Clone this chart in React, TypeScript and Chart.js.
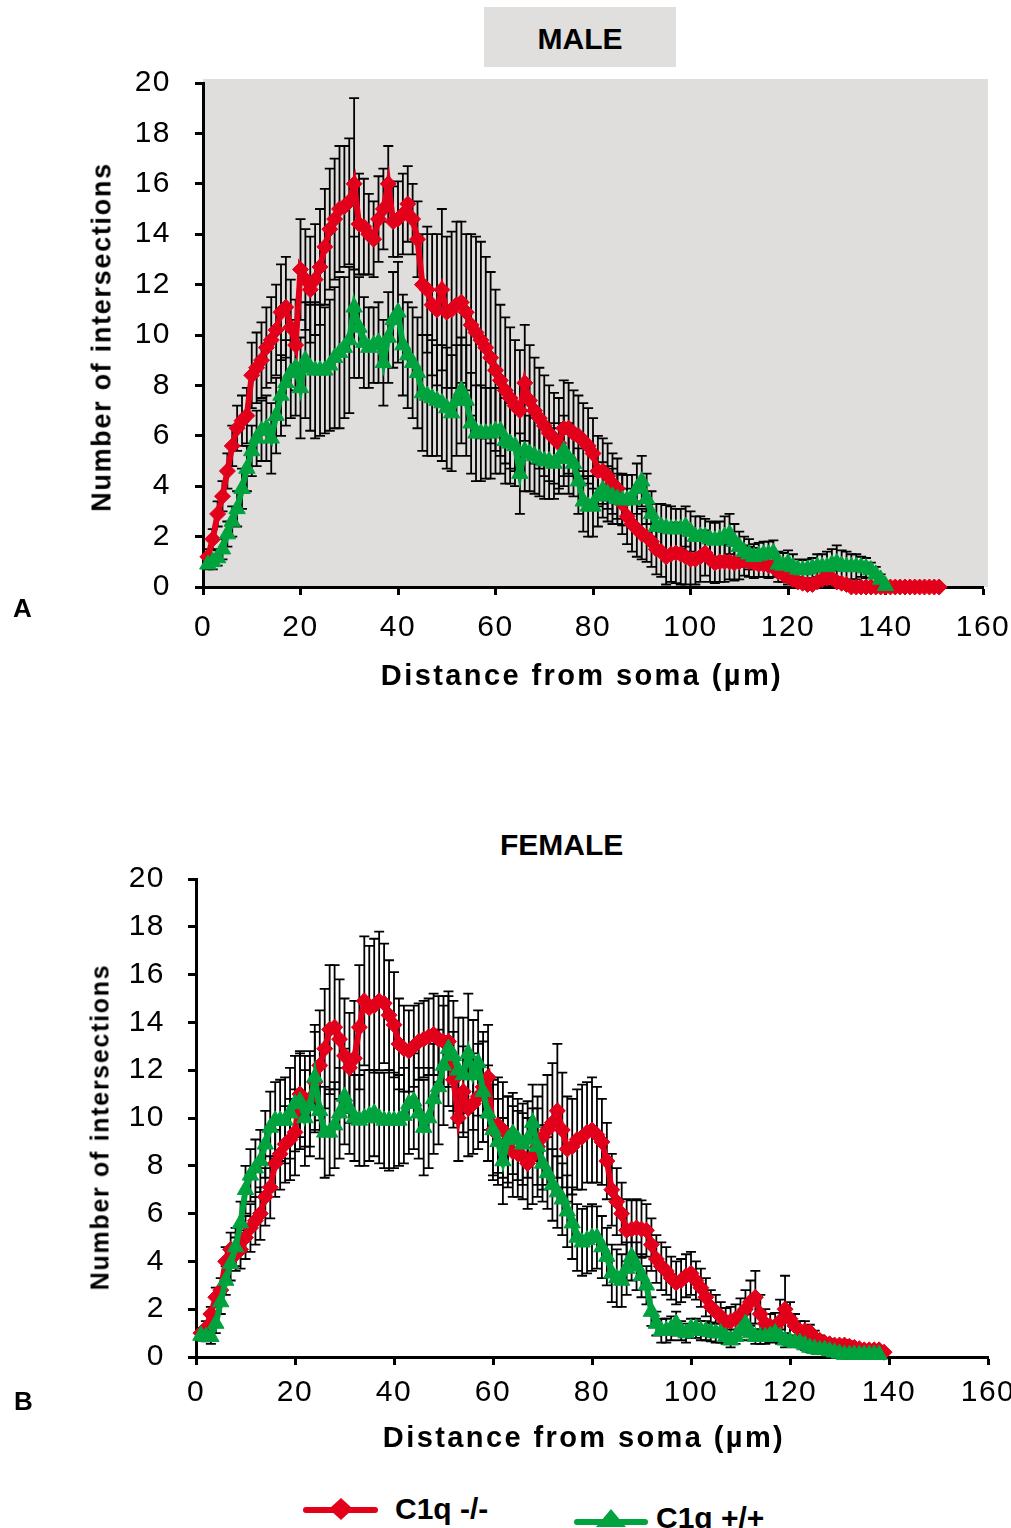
import React, { useEffect, useRef } from "react";
import { Chart, registerables } from "chart.js";

Chart.register(...registerables);

const RED = "#E2001A";
const GREEN = "#00A33E";
const FONT = "'Liberation Sans', Arial, Helvetica, sans-serif";

// Distance from soma (µm) starts at 1 µm, step 1 µm
const xTicks = [0, 20, 40, 60, 80, 100, 120, 140, 160];
const yTicks = [0, 2, 4, 6, 8, 10, 12, 14, 16, 18, 20];

// ---------------- MALE ----------------
const maleKO = [
  1.2, 1.9, 2.9, 3.6, 4.6, 5.6, 6.3, 6.6, 6.8, 8.4,
  8.7, 9.0, 9.5, 9.8, 10.2, 10.9, 11.1, 10.3, 9.6, 12.6,
  12.2, 11.8, 12.2, 12.7, 13.5, 14.2, 14.6, 15.0, 15.1, 15.3,
  16.0, 14.4, 14.3, 14.0, 13.8, 14.6, 15.0, 16.0, 14.5, 14.6,
  14.8, 15.2, 14.6, 13.8, 12.0, 11.8, 11.2, 11.0, 11.8, 10.9,
  11.0, 11.2, 11.3, 10.9, 10.4, 10.1, 9.8, 9.5, 9.1, 8.6,
  8.2, 7.8, 7.5, 7.2, 7.0, 8.1, 7.4, 7.0, 6.7, 6.4,
  6.1, 5.9, 5.7, 6.3, 6.3, 6.1, 6.0, 5.8, 5.6, 5.3,
  4.6, 4.6, 4.4, 4.1, 3.9, 3.3, 2.8, 2.5, 2.3, 2.1,
  2.0, 1.8, 1.5, 1.4, 1.2, 1.3, 1.35, 1.3, 1.2, 1.1,
  1.1, 1.2, 1.35, 1.1, 0.95, 1.0, 1.0, 1.0, 0.95, 1.0,
  1.05, 1.0, 0.95, 0.9, 0.9, 0.85, 0.8, 0.6, 0.5, 0.4,
  0.3, 0.2, 0.15, 0.1, 0.1, 0.2, 0.3, 0.35, 0.35, 0.2,
  0.15, 0.1, 0, 0, 0, 0, 0, 0, 0, 0,
  0, 0, 0, 0, 0, 0, 0, 0, 0, 0, 0,
];
const maleKOsem = [
  0.3, 0.4, 0.5, 0.6, 0.7, 0.8, 0.9, 1.0, 1.1, 1.3,
  1.4, 1.5, 1.6, 1.7, 1.8, 1.9, 2.0, 1.9, 1.8, 2.0,
  2.0, 2.1, 2.2, 2.3, 2.3, 2.4, 2.4, 2.5, 2.4, 2.5,
  3.4, 2.0, 1.9, 1.6, 1.5, 1.7, 1.6, 1.5, 1.4, 1.5,
  1.6, 1.5, 1.4, 1.5, 2.0, 2.5, 2.8, 3.0, 3.2, 3.0,
  3.1, 3.3, 3.2, 3.1, 3.6, 3.8, 3.9, 3.6, 3.4, 3.2,
  3.0, 2.9, 2.8, 2.6, 2.4, 2.3, 2.2, 2.1, 2.0, 2.0,
  1.9, 1.8, 1.8, 1.9, 1.8, 1.7, 1.6, 1.5, 1.5, 1.4,
  1.4, 1.3, 1.3, 1.2, 1.2, 1.2, 1.1, 1.1, 1.1, 1.0,
  1.0, 1.0, 1.0, 1.0, 1.1, 1.1, 1.2, 1.2, 1.1, 1.1,
  1.0, 1.0, 0.9, 0.9, 0.8, 0.8, 0.8, 0.7, 0.7, 0.7,
  0.6, 0.6, 0.6, 0.5, 0.5, 0.5, 0.4, 0.4, 0.3, 0.3,
  0.3, 0.2, 0.2, 0.1, 0.1, 0.2, 0.3, 0.3, 0.3, 0.2,
  0.1, 0.1, 0, 0, 0, 0, 0, 0, 0, 0,
  0, 0, 0, 0, 0, 0, 0, 0, 0, 0, 0,
];
const maleWT = [
  0.9, 1.0, 1.15, 1.5, 2.1, 2.6, 3.1, 3.9, 4.7, 5.4,
  5.9, 6.2, 6.3, 5.9, 6.8, 7.6, 8.1, 8.5, 8.7, 7.9,
  9.0, 8.7, 8.6, 8.6, 8.6, 8.8, 9.1, 9.3, 9.5, 9.8,
  11.1, 10.3, 9.7, 9.5, 9.6, 9.7, 8.9, 9.9, 10.6, 10.9,
  9.6, 9.2, 8.9, 8.5, 7.7, 7.6, 7.5, 7.4, 7.3, 7.1,
  6.9, 7.4, 7.8, 7.4, 6.5, 6.1, 6.1, 6.1, 6.1, 6.2,
  6.2, 5.8, 5.7, 5.6, 4.5, 5.4, 5.3, 5.2, 5.1, 5.0,
  5.0, 4.9, 5.1, 5.4, 5.1, 4.9, 4.2, 3.4, 3.2, 3.2,
  3.6, 3.85, 3.7, 3.6, 3.5, 3.45, 3.45, 3.45, 3.9, 4.2,
  3.5, 2.9, 2.4, 2.4, 2.35, 2.3, 2.3, 2.3, 2.4, 2.2,
  2.0, 2.0, 2.0, 1.9, 1.85, 1.9, 2.0, 2.1, 1.8, 1.6,
  1.4, 1.3, 1.2, 1.25, 1.3, 1.3, 1.35, 0.9, 0.85, 0.95,
  0.8, 0.7, 0.67, 0.7, 0.75, 0.8, 0.8, 0.8, 0.9, 0.95,
  0.85, 0.8, 0.8, 0.8, 0.8, 0.75, 0.67, 0.5, 0.3, 0.05,
];
const maleWTsem = [
  0.2, 0.3, 0.3, 0.4, 0.5, 0.6, 0.7, 0.8, 0.9, 1.0,
  1.1, 1.2, 1.3, 1.4, 1.5, 1.6, 1.7, 1.8, 1.9, 2.0,
  2.3, 2.5, 2.7, 2.6, 2.5, 2.6, 2.8, 3.0, 2.8, 2.9,
  2.8, 2.0, 1.8, 1.6, 1.5, 1.6, 1.7, 1.8, 1.9, 2.0,
  2.0, 2.1, 2.2, 2.2, 2.3, 2.4, 2.3, 2.2, 2.3, 2.4,
  2.3, 2.2, 2.1, 2.2, 2.0, 1.9, 1.9, 1.8, 1.8, 1.7,
  1.7, 1.7, 1.6, 1.6, 1.6, 1.6, 1.5, 1.5, 1.5, 1.5,
  1.5, 1.4, 1.4, 1.4, 1.4, 1.3, 1.3, 1.2, 1.2, 1.2,
  1.2, 1.1, 1.1, 1.1, 1.0, 1.0, 1.0, 1.0, 1.0, 1.0,
  1.0, 0.9, 0.9, 0.9, 0.9, 0.9, 0.8, 0.8, 0.8, 0.8,
  0.8, 0.8, 0.7, 0.7, 0.7, 0.7, 0.8, 0.8, 0.7, 0.6,
  0.6, 0.6, 0.5, 0.5, 0.5, 0.5, 0.5, 0.5, 0.5, 0.5,
  0.5, 0.4, 0.4, 0.4, 0.4, 0.5, 0.5, 0.6, 0.6, 0.7,
  0.6, 0.6, 0.5, 0.5, 0.4, 0.4, 0.3, 0.3, 0.2, 0.1,
];

// ---------------- FEMALE ----------------
const femaleKO = [
  1.0, 1.2, 1.8, 2.5, 2.8, 4.0, 4.5, 4.3, 4.5, 5.0,
  5.4, 5.7, 6.0, 6.7, 7.1, 8.1, 8.5, 8.9, 9.1, 9.4,
  11.0, 10.7, 10.8, 11.5, 12.2, 12.9, 13.7, 13.8, 13.3, 12.6,
  12.1, 12.5, 13.8, 14.9, 14.6, 14.7, 14.9, 14.8, 14.3, 13.9,
  13.1, 12.9, 12.8, 13.0, 13.2, 13.3, 13.4, 13.5, 13.3, 13.2,
  13.2, 11.6, 10.0, 11.1, 10.4, 10.6, 10.9, 11.3, 11.7, 9.5,
  9.7, 9.5, 9.0, 8.6, 8.5, 8.4, 8.1, 8.4, 8.8, 9.2,
  9.5, 9.8, 10.3, 9.5, 8.7, 8.8, 9.1, 9.2, 9.4, 9.5,
  9.3, 9.0, 8.2, 7.0, 6.5, 6.0, 5.3, 5.35, 5.4, 5.35,
  5.3, 4.7, 4.1, 3.8, 3.6, 3.3, 3.1, 3.2, 3.4, 3.5,
  3.2, 2.9, 2.5, 2.1, 1.9, 1.7, 1.45, 1.5, 1.6, 1.75,
  2.0, 2.3, 2.5, 1.8, 1.4, 1.3, 1.25, 1.5, 2.0, 1.6,
  1.3, 1.1, 1.1, 1.05, 0.8, 0.7, 0.6, 0.55, 0.5, 0.5,
  0.5, 0.45, 0.4, 0.35, 0.3, 0.3, 0.3, 0.3, 0.2,
];
const femaleKOsem = [
  0.2, 0.3, 0.3, 0.4, 0.5, 0.6, 0.7, 0.7, 0.8, 0.9,
  1.0, 1.0, 1.1, 1.2, 1.3, 1.4, 1.5, 1.6, 1.7, 1.8,
  1.8, 1.9, 2.0, 2.1, 2.3, 2.5, 2.7, 2.6, 2.5, 2.4,
  2.3, 2.4, 2.6, 2.7, 2.6, 2.8, 2.9, 2.5, 2.3, 2.2,
  1.9, 1.8, 1.7, 1.7, 1.6, 1.6, 1.6, 1.7, 1.8, 1.9,
  1.9, 2.0, 1.8, 1.9, 2.0, 2.1, 2.2, 2.3, 2.2, 2.1,
  2.0, 2.0, 1.9, 1.9, 1.8, 1.8, 1.9, 2.0, 2.1, 2.2,
  2.3, 2.5, 2.8, 2.4, 2.2, 2.0, 2.1, 2.2, 2.1, 2.2,
  2.0, 1.8, 1.6, 1.5, 1.4, 1.3, 1.3, 1.2, 1.2, 1.2,
  1.1, 1.1, 1.0, 1.0, 1.0, 0.9, 0.9, 0.9, 0.9, 0.9,
  0.8, 0.8, 0.8, 0.7, 0.7, 0.6, 0.6, 0.6, 0.6, 0.7,
  0.8, 0.9, 1.1, 0.8, 0.6, 0.5, 0.6, 0.9, 1.4, 0.7,
  0.5, 0.4, 0.4, 0.3, 0.3, 0.2, 0.2, 0.2, 0.2, 0.2,
  0.2, 0.2, 0.1, 0.1, 0.1, 0.1, 0.1, 0.1, 0.1,
];
const femaleWT = [
  0.9, 0.85, 0.85, 1.4, 2.3, 3.2, 3.9, 4.6, 5.6, 7.0,
  7.6, 7.9, 8.2, 8.9, 9.6, 9.9, 9.9, 9.9, 10.2, 10.6,
  10.7, 10.0, 10.5, 11.7, 10.3, 9.4, 9.4, 9.7, 10.2, 10.9,
  10.4, 10.0, 9.9, 10.0, 10.1, 10.2, 10.0, 9.9, 9.9, 9.9,
  9.9, 10.1, 10.6, 10.7, 10.2, 9.6, 10.0, 10.8, 11.3, 12.2,
  12.9, 12.6, 12.0, 11.8, 12.7, 11.8, 12.3, 11.1, 10.2, 9.5,
  9.0, 8.2, 9.1, 9.35, 9.1, 8.9, 9.1, 9.8, 8.8, 8.1,
  7.7, 7.2, 6.9, 6.6, 6.1, 5.6, 5.0, 4.8, 4.9, 5.0,
  5.0, 4.6, 4.2, 3.5, 3.3, 3.2, 3.7, 4.2, 3.8, 3.4,
  3.0, 1.9, 1.4, 1.1, 1.1, 1.2, 1.4, 1.1, 1.0, 1.2,
  1.2, 1.1, 1.1, 1.05, 1.0, 1.0, 0.85, 0.7, 0.85, 1.1,
  1.4, 1.0, 0.85, 0.85, 0.85, 0.9, 1.0, 0.85, 0.7, 0.65,
  0.6, 0.6, 0.5, 0.4, 0.35, 0.3, 0.3, 0.25, 0.2, 0.15,
  0.1, 0.1, 0.1, 0.1, 0.1, 0.1, 0.1, 0.1,
];
const femaleWTsem = [
  0.2, 0.2, 0.3, 0.4, 0.5, 0.6, 0.7, 0.8, 0.9, 1.0,
  1.1, 1.2, 1.3, 1.4, 1.5, 1.6, 1.7, 1.8, 1.9, 2.0,
  2.0, 2.0, 2.1, 2.2, 2.0, 1.9, 1.8, 1.8, 1.9, 2.0,
  1.9, 1.8, 1.9, 2.0, 1.9, 1.8, 1.9, 2.0, 2.1, 2.0,
  1.9, 2.0, 2.1, 2.0, 1.9, 2.0, 2.1, 2.3, 2.4, 2.5,
  2.4, 2.3, 2.2, 2.4, 2.5, 2.3, 2.2, 2.1, 2.0, 1.9,
  1.8, 1.8, 1.8, 1.7, 1.7, 1.7, 1.6, 1.6, 1.6, 1.6,
  1.5, 1.5, 1.5, 1.5, 1.5, 1.5, 1.4, 1.4, 1.4, 1.4,
  1.3, 1.3, 1.2, 1.2, 1.2, 1.1, 1.1, 1.0, 1.0, 0.9,
  0.8, 0.6, 0.5, 0.5, 0.5, 0.5, 0.5, 0.4, 0.4, 0.4,
  0.4, 0.4, 0.4, 0.4, 0.4, 0.4, 0.3, 0.3, 0.3, 0.4,
  0.4, 0.3, 0.3, 0.3, 0.3, 0.3, 0.3, 0.3, 0.3, 0.2,
  0.2, 0.2, 0.2, 0.2, 0.2, 0.1, 0.1, 0.1, 0.1, 0.1,
  0.1, 0.1, 0.1, 0.1, 0.1, 0.1, 0.1, 0.1,
];

const seriesNames = ["C1q -/-", "C1q +/+"];

function toPoints(vals: number[]) {
  return vals.map((v, i) => ({ x: i + 1, y: v }));
}

const errorBarPlugin = {
  id: "errorBars",
  beforeDatasetsDraw(chart: any) {
    const { ctx, chartArea, scales } = chart;
    ctx.save();
    ctx.beginPath();
    ctx.rect(chartArea.left, chartArea.top - 30, chartArea.right - chartArea.left + 10, chartArea.bottom - chartArea.top + 30);
    ctx.clip();
    ctx.strokeStyle = "#000";
    ctx.lineWidth = 1.8;
    chart.data.datasets.forEach((ds: any) => {
      const sem: number[] = ds.sem || [];
      ds.data.forEach((p: any, i: number) => {
        const e = sem[i];
        if (!e) return;
        const x = scales.x.getPixelForValue(p.x);
        const y1 = scales.y.getPixelForValue(p.y + e);
        const y2 = scales.y.getPixelForValue(p.y - e);
        ctx.beginPath();
        ctx.moveTo(x, y1);
        ctx.lineTo(x, y2);
        ctx.moveTo(x - 5, y1);
        ctx.lineTo(x + 5, y1);
        ctx.moveTo(x - 5, y2);
        ctx.lineTo(x + 5, y2);
        ctx.stroke();
      });
    });
    ctx.restore();
  },
};

const spacingPlugin = {
  id: "tickSpacing",
  beforeDraw(chart: any) {
    chart.ctx.letterSpacing = "1.5px";
  },
  afterDraw(chart: any) {
    chart.ctx.letterSpacing = "0px";
  },
};

type PanelProps = {
  top: number;
  width: number;
  height: number;
  padTop: number;
  padRight: number;
  yWidth: number;
  xHeight: number;
  xPad: number;
  yPad: number;
  ko: number[];
  koSem: number[];
  wt: number[];
  wtSem: number[];
};

function Panel(props: PanelProps) {
  const ref = useRef<HTMLCanvasElement | null>(null);
  useEffect(() => {
    if (!ref.current) return;
    const tickFont = { family: FONT, size: 30 };
    const chart = new Chart(ref.current, {
      type: "line",
      data: {
        datasets: [
          {
            label: seriesNames[0],
            data: toPoints(props.ko),
            sem: props.koSem,
            borderColor: RED,
            backgroundColor: RED,
            borderWidth: 6,
            pointStyle: "rectRot",
            pointRadius: 8,
            pointBorderWidth: 1,
            pointBackgroundColor: RED,
            pointBorderColor: RED,
            tension: 0,
            clip: false,
            order: 1,
          } as any,
          {
            label: seriesNames[1],
            data: toPoints(props.wt),
            sem: props.wtSem,
            borderColor: GREEN,
            backgroundColor: GREEN,
            borderWidth: 6,
            pointStyle: "triangle",
            pointRadius: 9.5,
            pointBorderWidth: 1,
            pointBackgroundColor: GREEN,
            pointBorderColor: GREEN,
            tension: 0,
            clip: false,
            order: 0,
          } as any,
        ],
      },
      options: {
        responsive: false,
        animation: false,
        devicePixelRatio: 1,
        events: [],
        layout: { padding: { top: props.padTop, right: props.padRight, left: 0, bottom: 0 } },
        plugins: { legend: { display: false }, tooltip: { enabled: false } },
        scales: {
          x: {
            type: "linear",
            min: 0,
            max: 160,
            afterBuildTicks: (s: any) => {
              s.ticks = xTicks.map((v) => ({ value: v }));
            },
            ticks: { padding: props.xPad, color: "#000", font: tickFont, maxRotation: 0, autoSkip: false },
            grid: { drawOnChartArea: false, drawTicks: true, tickLength: 8, tickWidth: 3, tickColor: "#000" },
            border: { display: true, color: "#000", width: 3 },
            afterFit: (s: any) => {
              s.height = props.xHeight;
            },
          },
          y: {
            type: "linear",
            min: 0,
            max: 20,
            afterBuildTicks: (s: any) => {
              s.ticks = yTicks.map((v) => ({ value: v }));
            },
            ticks: { padding: props.yPad, color: "#000", font: tickFont },
            grid: { drawOnChartArea: false, drawTicks: true, tickLength: 8, tickWidth: 3, tickColor: "#000" },
            border: { display: true, color: "#000", width: 3 },
            afterFit: (s: any) => {
              s.width = props.yWidth;
            },
          },
        },
      } as any,
      plugins: [errorBarPlugin, spacingPlugin],
    });
    return () => chart.destroy();
  }, []);
  return (
    <canvas
      ref={ref}
      width={props.width}
      height={props.height}
      style={{ position: "absolute", left: 0, top: props.top, width: props.width, height: props.height }}
    />
  );
}

const abs = (o: React.CSSProperties): React.CSSProperties => ({ position: "absolute", ...o });

function YTitle({ cx, cy, size }: { cx: number; cy: number; size: number }) {
  return (
    <div
      style={abs({
        left: cx,
        top: cy,
        transform: "translate(-50%, -50%) rotate(-90deg)",
        whiteSpace: "nowrap",
        fontFamily: FONT,
        fontWeight: "bold",
        fontSize: size,
        lineHeight: `${size}px`,
        letterSpacing: "1.7px",
        color: "#000",
      })}
    >
      Number of intersections
    </div>
  );
}

function XTitle({ cx, top }: { cx: number; top: number }) {
  return (
    <div
      style={abs({
        left: cx,
        top,
        transform: "translateX(-50%)",
        whiteSpace: "nowrap",
        fontFamily: FONT,
        fontWeight: "bold",
        fontSize: 29,
        lineHeight: "29px",
        letterSpacing: "2.4px",
        color: "#000",
      })}
    >
      Distance from soma (µm)
    </div>
  );
}

export default function App() {
  const bold = (size: number): React.CSSProperties => ({
    fontFamily: FONT,
    fontWeight: "bold",
    fontSize: size,
    lineHeight: `${size}px`,
    whiteSpace: "nowrap",
    color: "#000",
  });
  return (
    <div style={abs({ left: 0, top: 0, width: 1011, height: 1528, overflow: "hidden", background: "#fff" })}>
      {/* MALE panel */}
      <div style={abs({ left: 484, top: 7, width: 192, height: 60, background: "#E0DFDD" })} />
      <div style={abs({ left: 484, top: 24, width: 192, textAlign: "center", ...bold(30) })}>MALE</div>
      <div style={abs({ left: 203, top: 79, width: 785, height: 508, background: "#DFDEDC" })} />
      <Panel
        top={24}
        width={1040}
        height={660}
        padTop={59}
        padRight={57}
        yWidth={203}
        xHeight={97}
        xPad={15}
        yPad={24}
        ko={maleKO}
        koSem={maleKOsem}
        wt={maleWT}
        wtSem={maleWTsem}
      />
      <YTitle cx={102} cy={337} size={27} />
      <XTitle cx={582} top={661} />
      <div style={abs({ left: 13, top: 595, ...bold(26) })}>A</div>

      {/* FEMALE panel */}
      <div style={abs({ left: 500, top: 830, ...bold(30) })}>FEMALE</div>
      <Panel
        top={820}
        width={1040}
        height={660}
        padTop={59}
        padRight={52}
        yWidth={196}
        xHeight={123}
        xPad={10}
        yPad={23}
        ko={femaleKO}
        koSem={femaleKOsem}
        wt={femaleWT}
        wtSem={femaleWTsem}
      />
      <YTitle cx={100} cy={1127} size={25} />
      <XTitle cx={584} top={1423} />
      <div style={abs({ left: 14, top: 1388, ...bold(26) })}>B</div>

      {/* Legend */}
      <div style={abs({ left: 303, top: 1507, width: 75, height: 6, background: RED, borderRadius: 3 })} />
      <svg style={abs({ left: 329, top: 1498 })} width={24} height={22}>
        <polygon points="12,0 24,11 12,22 0,11" fill={RED} />
      </svg>
      <div style={abs({ left: 395, top: 1494, ...bold(30) })}>{seriesNames[0]}</div>

      <div style={abs({ left: 574, top: 1519, width: 74, height: 6, background: GREEN, borderRadius: 3 })} />
      <svg style={abs({ left: 596, top: 1509 })} width={30} height={18}>
        <polygon points="15,0 30,18 0,18" fill={GREEN} />
      </svg>
      <div style={abs({ left: 656, top: 1503, ...bold(30) })}>{seriesNames[1]}</div>
    </div>
  );
}
